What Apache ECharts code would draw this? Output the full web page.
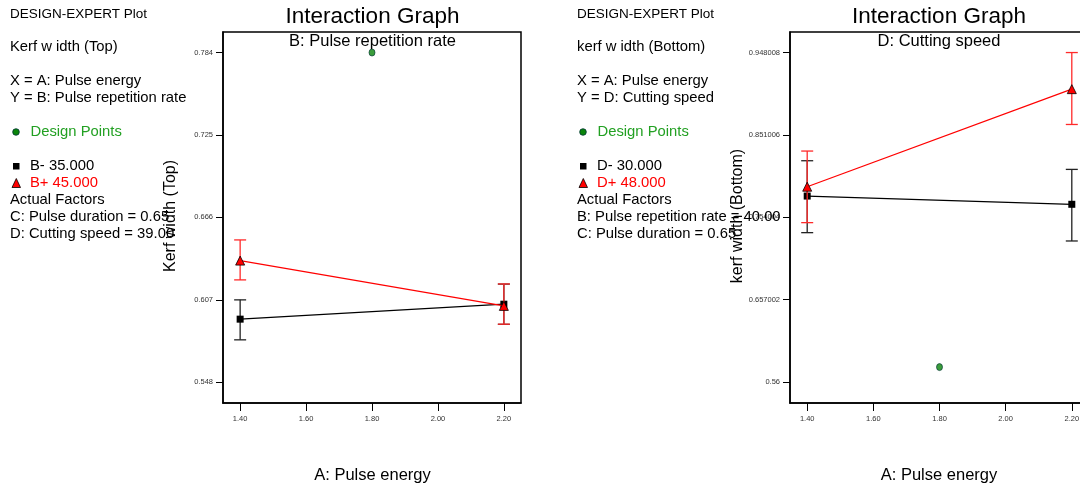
<!DOCTYPE html>
<html>
<head>
<meta charset="utf-8">
<script src="https://cdn.jsdelivr.net/npm/echarts@6/dist/echarts.min.js"></script>
<style>
html,body{margin:0;padding:0;background:#fff;}
#chart{width:1080px;height:486px;}
</style>
</head>
<body>
<div id="chart"></div>
<script>
// ---------- data ----------
const xLevels = [1.4, 2.2];
const xTicks = [1.4, 1.6, 1.8, 2.0, 2.2];

// Left panel: Kerf width (Top), factor B
const topYTicks = [0.548, 0.607, 0.666, 0.725, 0.784];
const topYTickLabels = ['0.548', '0.607', '0.666', '0.725', '0.784'];
const topBminus = [0.5932, 0.6039];
const topBminusLow = [0.5784, 0.5895];
const topBminusHigh = [0.6070, 0.6183];
const topBplus = [0.6351, 0.6027];
const topBplusLow = [0.6213, 0.5896];
const topBplusHigh = [0.6499, 0.6184];
const topDesign = [[1.8, 0.784]];

// Right panel: kerf width (Bottom), factor D
const botYTicks = [0.56, 0.657002, 0.754004, 0.851006, 0.948008];
const botYTickLabels = ['0.56', '0.657002', '0.754004', '0.851006', '0.948008'];
const botDminus = [0.7790, 0.7693];
const botDminusLow = [0.7359, 0.7261];
const botDminusHigh = [0.8206, 0.8104];
const botDplus = [0.7900, 0.9049];
const botDplusLow = [0.7477, 0.8633];
const botDplusHigh = [0.8320, 0.9480];
const botDesign = [[1.8, 0.5776]];

// ---------- helpers ----------
const FONT = 'Liberation Sans, Arial, sans-serif';
function pairs(xs, ys){ return xs.map((x,i)=>[x, ys[i]]); }
function bars(xs, lo, hi){ return xs.map((x,i)=>[x, lo[i], hi[i]]); }
function errRender(color){
  return function(params, api){
    const x = api.value(0), lo = api.value(1), hi = api.value(2);
    const p1 = api.coord([x, lo]), p2 = api.coord([x, hi]);
    const w = 6;
    const st = {stroke: color, lineWidth: 1.3};
    return {type:'group', children:[
      {type:'line', shape:{x1:p1[0], y1:p1[1], x2:p2[0], y2:p2[1]}, style:st},
      {type:'line', shape:{x1:p1[0]-w, y1:p1[1], x2:p1[0]+w, y2:p1[1]}, style:st},
      {type:'line', shape:{x1:p2[0]-w, y1:p2[1], x2:p2[0]+w, y2:p2[1]}, style:st}
    ]};
  };
}
function xAxisCfg(gi){
  return {
    type:'value', gridIndex: gi, min:1.348, max:2.252,
    axisLine:{show:true, onZero:false, lineStyle:{color:'#000', width:1.5}},
    axisTick:{show:true, length:8, lineStyle:{color:'#000', width:1}, customValues: xTicks},
    axisLabel:{show:true, margin:12, fontSize:7.5, color:'#333', fontFamily:FONT,
      customValues: xTicks, formatter: v => Number(v).toFixed(2)},
    splitLine:{show:false}
  };
}
function yAxisCfg(gi, min, max, ticks, labels){
  return {
    type:'value', gridIndex: gi, min:min, max:max,
    axisLine:{show:true, onZero:false, lineStyle:{color:'#000', width:1.5}},
    axisTick:{show:true, length:7, lineStyle:{color:'#000', width:1}, customValues: ticks},
    axisLabel:{show:true, margin:10, fontSize:7.5, color:'#333', fontFamily:FONT,
      customValues: ticks,
      formatter: v => { let best=0; ticks.forEach((t,i)=>{ if(Math.abs(t-v)<Math.abs(ticks[best]-v)) best=i; }); return labels[best]; }},
    splitLine:{show:false}
  };
}
function txt(x, y, s, size, color, align){
  return {type:'text', x:x, y:y, z:100, style:{text:s, fontSize:size, fill:color||'#000',
    fontFamily:FONT, textAlign:align||'left', textVerticalAlign:'middle'}};
}
function legendBlock(x0, lines){
  const out = [];
  const fs = 14.8;
  out.push(txt(x0, 14, 'DESIGN-EXPERT Plot', 13.5));
  out.push(txt(x0, 47, lines.resp, fs));
  out.push(txt(x0, 81, lines.xl, fs));
  out.push(txt(x0, 98, lines.yl, fs));
  out.push({type:'circle', z:100, shape:{cx:x0+6, cy:132, r:3.3}, style:{fill:'#0a850a', stroke:'#033', lineWidth:0.8}});
  out.push(txt(x0+20.5, 132, 'Design Points', fs, '#22a022'));
  out.push({type:'rect', z:100, shape:{x:x0+3, y:163, width:6.5, height:6.5}, style:{fill:'#000'}});
  out.push(txt(x0+20, 166, lines.lo, fs));
  out.push({type:'polygon', z:100, shape:{points:[[x0+6.3,178.5],[x0+10.5,187.5],[x0+2,187.5]]}, style:{fill:'#ff0000', stroke:'#000', lineWidth:0.8}});
  out.push(txt(x0+20, 183, lines.hi, fs, '#ff0000'));
  out.push(txt(x0, 200, 'Actual Factors', fs));
  out.push(txt(x0, 217, lines.f1, fs));
  out.push(txt(x0, 234, lines.f2, fs));
  return out;
}

const chart = echarts.init(document.getElementById('chart'), null, {renderer:'canvas'});

const graphics = [].concat(
  legendBlock(10, {resp:'Kerf w idth (Top)', xl:'X = A: Pulse energy', yl:'Y = B: Pulse repetition rate',
    lo:'B- 35.000', hi:'B+ 45.000', f1:'C: Pulse duration = 0.65', f2:'D: Cutting speed = 39.00'}),
  legendBlock(577, {resp:'kerf w idth (Bottom)', xl:'X = A: Pulse energy', yl:'Y = D: Cutting speed',
    lo:'D- 30.000', hi:'D+ 48.000', f1:'B: Pulse repetition rate = 40.00', f2:'C: Pulse duration = 0.65'}),
  [
    txt(372.5, 17, 'Interaction Graph', 22.5, '#000', 'center'),
    txt(372.5, 41, 'B: Pulse repetition rate', 16.5, '#000', 'center'),
    txt(372.5, 475, 'A: Pulse energy', 16.5, '#000', 'center'),
    {type:'text', x:171, y:216, rotation:Math.PI/2, z:100, style:{text:'Kerf width (Top)', fontSize:16, fill:'#000', fontFamily:FONT, textAlign:'center', textVerticalAlign:'middle'}},
    txt(939, 17, 'Interaction Graph', 22.5, '#000', 'center'),
    txt(939, 41, 'D: Cutting speed', 16.5, '#000', 'center'),
    txt(939, 475, 'A: Pulse energy', 16.5, '#000', 'center'),
    {type:'text', x:738, y:216, rotation:Math.PI/2, z:100, style:{text:'kerf width (Bottom)', fontSize:16, fill:'#000', fontFamily:FONT, textAlign:'center', textVerticalAlign:'middle'}}
  ]
);

const option = {
  backgroundColor:'#fff',
  animation:false,
  grid:[
    {left:223, top:32, width:298, height:371, show:true, borderColor:'#000', borderWidth:1.5, backgroundColor:'transparent', containLabel:false, outerBoundsMode:'none'},
    {left:790, top:32, width:299, height:371, show:true, borderColor:'#000', borderWidth:1.5, backgroundColor:'transparent', containLabel:false, outerBoundsMode:'none'}
  ],
  xAxis:[xAxisCfg(0), xAxisCfg(1)],
  yAxis:[
    yAxisCfg(0, 0.5332, 0.7987, topYTicks, topYTickLabels),
    yAxisCfg(1, 0.5353, 0.9722, botYTicks, botYTickLabels)
  ],
  series:[
    // left panel
    {type:'custom', xAxisIndex:0, yAxisIndex:0, renderItem:errRender('#222'), data:bars(xLevels, topBminusLow, topBminusHigh), z:2},
    {type:'line', xAxisIndex:0, yAxisIndex:0, data:pairs(xLevels, topBminus), symbol:'rect', symbolSize:7,
      lineStyle:{color:'#000', width:1.2}, itemStyle:{color:'#000'}, z:3},
    {type:'custom', xAxisIndex:0, yAxisIndex:0, renderItem:errRender('#ff2a2a'), data:bars(xLevels, topBplusLow, topBplusHigh), z:4},
    {type:'line', xAxisIndex:0, yAxisIndex:0, data:pairs(xLevels, topBplus), symbol:'triangle', symbolSize:9,
      lineStyle:{color:'#ff0000', width:1.2}, itemStyle:{color:'#ff0000', borderColor:'#000', borderWidth:0.8}, z:5},
    {type:'scatter', xAxisIndex:0, yAxisIndex:0, data:topDesign, symbol:'circle', symbolSize:[6,7],
      itemStyle:{color:'#0a850a', borderColor:'#033', borderWidth:0.8}, z:6},
    // right panel
    {type:'custom', xAxisIndex:1, yAxisIndex:1, renderItem:errRender('#222'), data:bars(xLevels, botDminusLow, botDminusHigh), z:2},
    {type:'line', xAxisIndex:1, yAxisIndex:1, data:pairs(xLevels, botDminus), symbol:'rect', symbolSize:7,
      lineStyle:{color:'#000', width:1.2}, itemStyle:{color:'#000'}, z:3},
    {type:'custom', xAxisIndex:1, yAxisIndex:1, renderItem:errRender('#ff2a2a'), data:bars(xLevels, botDplusLow, botDplusHigh), z:4},
    {type:'line', xAxisIndex:1, yAxisIndex:1, data:pairs(xLevels, botDplus), symbol:'triangle', symbolSize:9,
      lineStyle:{color:'#ff0000', width:1.2}, itemStyle:{color:'#ff0000', borderColor:'#000', borderWidth:0.8}, z:5},
    {type:'scatter', xAxisIndex:1, yAxisIndex:1, data:botDesign, symbol:'circle', symbolSize:[6,7],
      itemStyle:{color:'#0a850a', borderColor:'#033', borderWidth:0.8}, z:6}
  ],
  graphic: graphics
};
chart.setOption(option);
</script>
</body>
</html>
